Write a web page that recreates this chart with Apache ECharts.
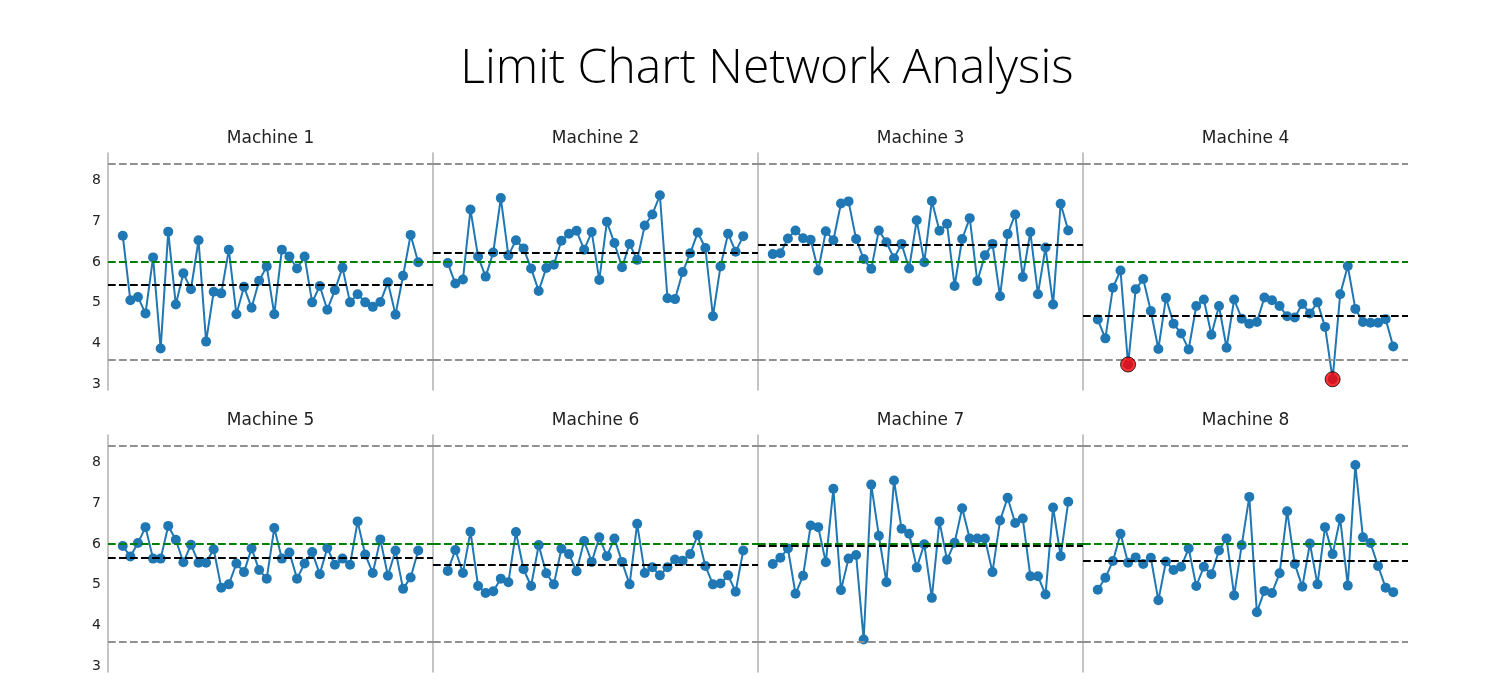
<!DOCTYPE html>
<html><head><meta charset="utf-8">
<script src="https://cdn.jsdelivr.net/npm/echarts@6/dist/echarts.min.js"></script>
<style>html,body{margin:0;padding:0;background:#fff}#c{width:1500px;height:700px}</style>
</head><body><div id="c"></div>
<script>
const chartTitle = 'Limit Chart Network Analysis';
const machineNames = ['Machine 1','Machine 2','Machine 3','Machine 4','Machine 5','Machine 6','Machine 7','Machine 8'];
const m1 = [6.64,5.06,5.14,4.74,6.11,3.88,6.74,4.96,5.72,5.33,6.53,4.05,5.27,5.23,6.30,4.72,5.39,4.88,5.54,5.89,4.72,6.30,6.13,5.84,6.13,5.01,5.41,4.83,5.31,5.86,5.01,5.21,5.01,4.90,5.02,5.50,4.71,5.66,6.66,5.99];
const m2 = [5.97,5.47,5.57,7.28,6.13,5.64,6.23,7.56,6.16,6.53,6.33,5.84,5.29,5.85,5.93,6.52,6.69,6.76,6.30,6.73,5.56,6.98,6.46,5.87,6.44,6.05,6.89,7.16,7.63,5.11,5.09,5.75,6.21,6.72,6.34,4.67,5.89,6.69,6.25,6.63];
const m3 = [6.19,6.21,6.57,6.77,6.58,6.54,5.79,6.75,6.53,7.43,7.48,6.56,6.07,5.83,6.77,6.48,6.09,6.44,5.84,7.02,5.99,7.49,6.76,6.93,5.41,6.56,7.07,5.53,6.16,6.44,5.16,6.68,7.16,5.63,6.73,5.21,6.35,4.96,7.42,6.77];
const m4 = [4.59,4.13,5.37,5.79,3.49,5.33,5.58,4.80,3.87,5.12,4.49,4.25,3.86,4.92,5.08,4.22,4.92,3.90,5.08,4.61,4.49,4.53,5.13,5.06,4.92,4.67,4.64,4.97,4.74,5.01,4.41,3.13,5.21,5.90,4.85,4.53,4.51,4.51,4.60,3.93];
const m5 = [5.95,5.69,6.02,6.41,5.64,5.64,6.44,6.10,5.55,5.98,5.54,5.54,5.87,4.93,5.01,5.52,5.31,5.89,5.36,5.15,6.39,5.64,5.79,5.15,5.52,5.80,5.26,5.90,5.49,5.64,5.49,6.55,5.74,5.29,6.11,5.22,5.84,4.90,5.18,5.84];
const m6 = [5.34,5.85,5.29,6.30,4.97,4.80,4.84,5.15,5.06,6.29,5.38,4.97,5.97,5.28,5.01,5.88,5.75,5.33,6.07,5.56,6.16,5.70,6.13,5.56,5.01,6.49,5.29,5.43,5.23,5.43,5.62,5.59,5.75,6.22,5.46,5.01,5.03,5.23,4.83,5.84];
const m7 = [5.51,5.66,5.89,4.78,5.22,6.45,6.41,5.55,7.35,4.87,5.64,5.73,3.66,7.45,6.20,5.06,7.55,6.37,6.25,5.42,5.99,4.68,6.55,5.61,6.03,6.87,6.13,6.13,6.13,5.31,6.57,7.13,6.51,6.62,5.21,5.21,4.76,6.89,5.70,7.03];
const m8 = [4.88,5.17,5.58,6.25,5.54,5.67,5.51,5.66,4.62,5.57,5.36,5.44,5.89,4.97,5.44,5.26,5.84,6.13,4.74,5.97,7.15,4.33,4.85,4.80,5.28,6.80,5.51,4.95,6.01,5.01,6.41,5.75,6.62,4.98,7.93,6.16,6.02,5.46,4.93,4.82];
const UCL = 8.4, LCL = 3.6, TARGET = 6;
const yTickLabels = [3,4,5,6,7,8];

const machines = [m1,m2,m3,m4,m5,m6,m7,m8];
const allVals = [].concat(...machines, [UCL, LCL]);
const lo = Math.min(...allVals), hi = Math.max(...allVals);
const yPad = 0.05 * (hi - lo);
const yMin = lo - yPad, yMax = hi + yPad;
const n = m1.length;
const xPad = 0.05 * (n - 1);

const L0 = 108, PW = 325, T0 = 153, PH = 237, RS = 282;
const dash = [7.7, 3.3];
const grids = [], xAxes = [], yAxes = [], series = [];
machines.forEach((m, k) => {
  const col = k % 4, row = Math.floor(k / 4);
  grids.push({left: L0 + PW * col, top: T0 + RS * row, width: PW, height: PH});
  xAxes.push({type: 'value', gridIndex: k, min: -xPad, max: n - 1 + xPad, position: 'top',
    axisLine: {show: false, onZero: false}, axisTick: {show: false}, axisLabel: {show: false}, splitLine: {show: false},
    name: machineNames[k], nameLocation: 'middle', nameGap: 6,
    nameTextStyle: {fontFamily: 'DejaVu Sans', fontSize: 17, color: '#222'}});
  yAxes.push({type: 'value', gridIndex: k, min: yMin, max: yMax, splitNumber: 5, position: 'left',
    axisLine: {show: true, onZero: false, lineStyle: {color: '#b0b0b0', width: 1.5}},
    axisTick: {show: false}, splitLine: {show: false},
    axisLabel: {show: col === 0, margin: 7, fontFamily: 'DejaVu Sans', fontSize: 14, color: '#222',
      formatter: v => { const r = Math.round(v); return (Math.abs(v - r) < 1e-6 && yTickLabels.includes(r)) ? String(r) : ''; }}});
  const mean = m.reduce((a, b) => a + b, 0) / m.length;
  series.push({type: 'line', xAxisIndex: k, yAxisIndex: k, data: m.map((v, i) => [i, v]),
    symbol: 'circle', symbolSize: 10, color: '#1f77b4',
    lineStyle: {color: '#1f77b4', width: 2}, itemStyle: {color: '#1f77b4'}, z: 2,
    markLine: {silent: true, symbol: ['none', 'none'], label: {show: false}, animation: false,
      lineStyle: {type: dash, width: 2},
      data: [
        {yAxis: UCL, lineStyle: {color: '#909090', type: dash, width: 2}},
        {yAxis: LCL, lineStyle: {color: '#909090', type: dash, width: 2}},
        {yAxis: TARGET, lineStyle: {color: '#008000', type: dash, width: 2}},
        {yAxis: mean, lineStyle: {color: '#000000', type: dash, width: 2}}
      ]}});
  series.push({type: 'scatter', xAxisIndex: k, yAxisIndex: k,
    data: m.map((v, i) => [i, v]).filter(p => p[1] < LCL || p[1] > UCL),
    symbol: 'circle', symbolSize: 15, itemStyle: {color: '#ff0000', borderColor: '#000', borderWidth: 1}, z: 10});
});

const chart = echarts.init(document.getElementById('c'));
chart.setOption({
  animation: false,
  backgroundColor: '#fff',
  graphic: [{type: 'text', x: 767, y: 69, style: {text: chartTitle, fontFamily: 'Open Sans', fontWeight: 300,
    fontSize: 48, fill: '#000', align: 'center', verticalAlign: 'middle'}}],
  grid: grids, xAxis: xAxes, yAxis: yAxes, series: series
});
</script></body></html>
